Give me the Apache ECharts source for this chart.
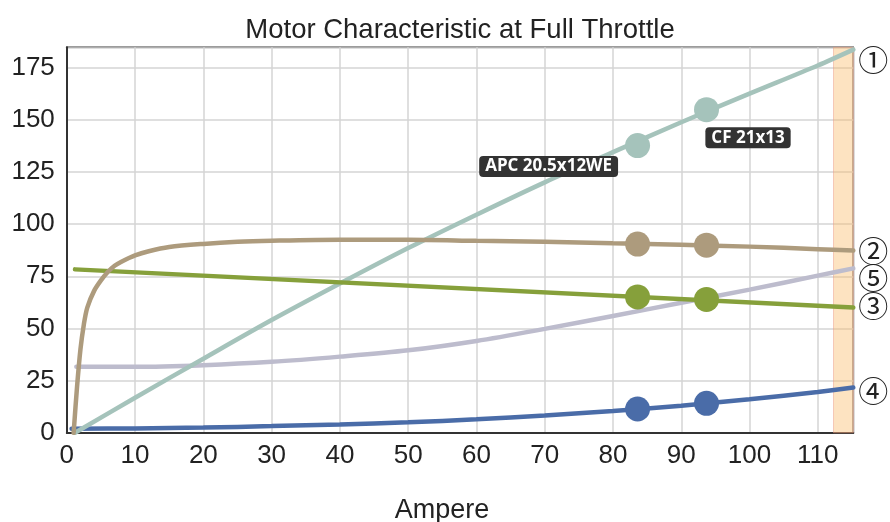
<!DOCTYPE html>
<html>
<head>
<meta charset="utf-8">
<script src="https://cdn.jsdelivr.net/npm/echarts@6/dist/echarts.min.js"></script>
<style>html,body{margin:0;padding:0;background:#fff;}#c{width:890px;height:522px;}</style>
</head>
<body>
<div id="c"></div>
<script>
// ---- data ----
const titleText = 'Motor Characteristic at Full Throttle';
const xName = 'Ampere';
const endMarks = ['①', '②', '③', '④', '⑤'];

const tealX = [1.2, 10, 20, 30, 40, 50, 60, 70, 80, 90, 100, 110, 115.2];
const tealY = [0, 16.8, 35.5, 54, 71.5, 88.5, 104.5, 120, 134.5, 148.8, 162.5, 176, 183.6];

const brownX = [1, 1.5, 2, 2.5, 3, 4, 5, 6, 7, 8, 10, 12, 15, 20, 25, 30, 40, 50, 60, 70, 80, 90, 100, 110, 115.2];
const brownY = [0, 22, 40, 52, 60, 68, 73, 77, 80, 82, 85, 87, 89, 90.5, 91.5, 92, 92.5, 92.5, 92, 91.5, 90.8, 90.1, 89.2, 88, 87.3];

const greenX = [1.2, 115.2];
const greenY = [78.3, 60];

const blueX = [0.7, 10, 20, 30, 40, 50, 60, 70, 80, 90, 100, 110, 115.2];
const blueY = [2, 2.1, 2.5, 3.2, 4, 5, 6.5, 8.3, 10.5, 13, 16.1, 19.5, 21.7];

const lavX = [1.4, 10, 20, 30, 40, 50, 60, 70, 80, 90, 100, 110, 115.2];
const lavY = [31.6, 31.6, 32.4, 34, 36.5, 39.5, 44, 49.8, 56, 62.3, 68.6, 75.3, 78.8];

const markX = [83.6, 93.7];
const tealPts = [137.6, 154.8];
const brownPts = [90.4, 89.9];
const greenPts = [65.1, 63.9];
const bluePts = [11.4, 14.1];
const propLabels = ['APC 20.5x12WE', 'CF 21x13'];

const bandRange = [112.3, 115.2];

// ---- chart ----
const zip = (xs, ys) => xs.map((x, i) => [x, ys[i]]);
const C = {
  teal: '#a5c3bb', brown: '#ad9b7d', green: '#86a03b', blue: '#4a6ca8', lav: '#bdbccd'
};
const FONT = "'Liberation Sans', Arial, sans-serif";

function lineSeries(name, xs, ys, color, mark, offY, z) {
  return {
    name, type: 'line', data: zip(xs, ys), symbol: 'none', smooth: 0.3, z,
    lineStyle: { color, width: 4.5, cap: 'round' },
    endLabel: {
      show: true, formatter: mark, distance: 5, offset: [0, offY],
      fontSize: 30, color: '#222', fontFamily: "'Noto Sans CJK JP', 'DejaVu Sans', sans-serif"
    },
    emphasis: { disabled: true }, silent: true
  };
}
function ptSeries(ys, color, labels) {
  return {
    type: 'scatter', symbolSize: 25, z: 6, silent: true,
    itemStyle: { color, opacity: 1 },
    data: markX.map((x, i) => {
      const d = { value: [x, ys[i]] };
      if (labels) {
        const lab = {
          show: true, formatter: labels[i], color: '#fff', fontWeight: 'bold',
          fontSize: 17, fontFamily: "'Open Sans', sans-serif",
          backgroundColor: '#333', borderRadius: 4, padding: [2, 6]
        };
        if (i === 0) Object.assign(lab, { position: 'left', distance: 7, offset: [0, 21] });
        else Object.assign(lab, { position: 'bottom', distance: 5, offset: [41.5, 0] });
        d.label = lab;
      }
      return d;
    })
  };
}

const chart = echarts.init(document.getElementById('c'));
chart.setOption({
  animation: false,
  backgroundColor: '#fff',
  title: [
    { text: titleText, left: 455, top: 11, textAlign: 'center',
      textStyle: { fontSize: 27.5, fontWeight: 'normal', color: '#222', fontFamily: FONT } },
    { text: xName, left: 437, top: 492, textAlign: 'center',
      textStyle: { fontSize: 27, fontWeight: 'normal', color: '#222', fontFamily: FONT } }
  ],
  grid: { left: 66.8, right: 36.7, top: 47.3, bottom: 89.2, show: true, borderColor: '#3a3a3a', borderWidth: 1.5, backgroundColor: 'transparent' },
  xAxis: {
    type: 'value', min: 0, max: 115.2, interval: 10,
    axisLine: { show: true, lineStyle: { color: '#333', width: 2 } },
    axisTick: { show: false },
    axisLabel: { fontSize: 26, color: '#222', fontFamily: FONT, margin: 10, showMaxLabel: false },
    splitLine: { show: true, lineStyle: { color: '#d4d4d4', width: 1.5 } }
  },
  yAxis: {
    type: 'value', min: 0, max: 184.7, interval: 25,
    axisLine: { show: true, lineStyle: { color: '#333', width: 2 } },
    axisTick: { show: false },
    axisLabel: { fontSize: 26, color: '#222', fontFamily: FONT, margin: 12, showMaxLabel: false },
    splitLine: { show: true, lineStyle: { color: '#d4d4d4', width: 1.5 } }
  },
  series: [
    lineSeries('5', lavX, lavY, C.lav, endMarks[4], 9, 2),
    lineSeries('4', blueX, blueY, C.blue, endMarks[3], 3, 2),
    lineSeries('1', tealX, tealY, C.teal, endMarks[0], 10, 2),
    lineSeries('3', greenX, greenY, C.green, endMarks[2], -2, 2),
    lineSeries('2', brownX, brownY, C.brown, endMarks[1], 0, 2),
    ptSeries(tealPts, C.teal, propLabels),
    ptSeries(brownPts, C.brown),
    ptSeries(greenPts, C.green),
    ptSeries(bluePts, C.blue),
    {
      type: 'line', data: [], z: 5, silent: true,
      markArea: {
        silent: true,
        itemStyle: { color: 'rgba(250,185,100,0.4)', borderColor: 'rgba(235,150,130,0.45)', borderWidth: 1 },
        data: [[{ xAxis: bandRange[0] }, { xAxis: bandRange[1] }]]
      }
    }
  ]
});
</script>
</body>
</html>
